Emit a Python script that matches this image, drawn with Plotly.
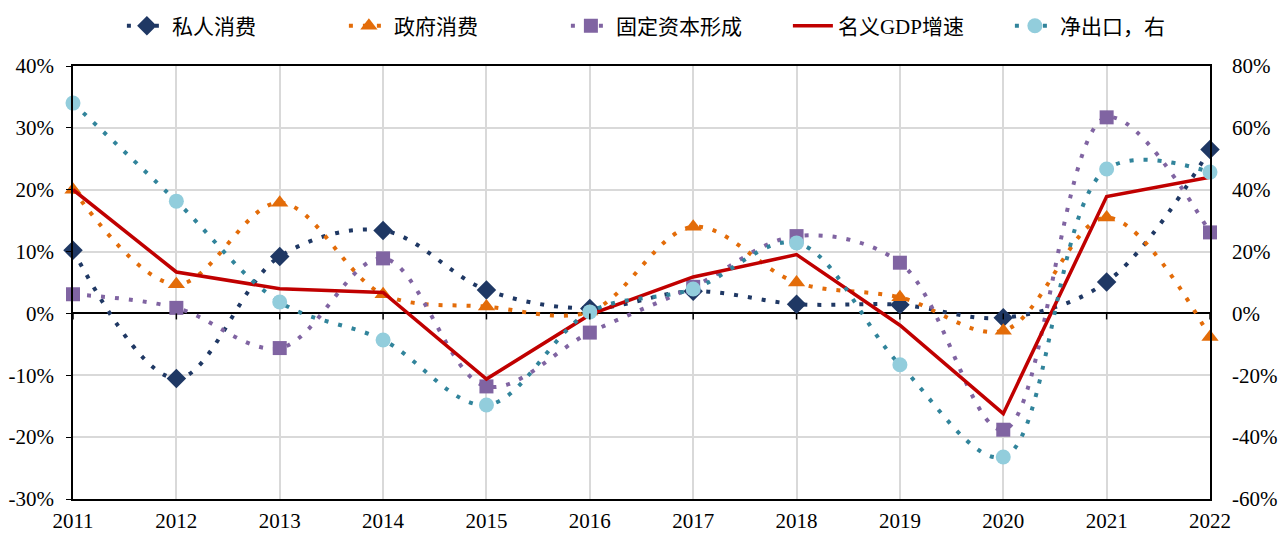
import plotly.graph_objects as go

years = [2011, 2012, 2013, 2014, 2015, 2016, 2017, 2018, 2019, 2020, 2021, 2022]

# 左轴（%）
private_cons = [10.2, -10.5, 9.2, 13.4, 3.8, 0.8, 3.6, 1.5, 1.4, -0.7, 5.1, 26.5]
gov_cons = [20.0, 4.7, 17.9, 3.1, 1.1, 0.3, 14.0, 5.0, 2.6, -2.8, 15.5, -3.8]
capital_form = [3.1, 0.9, -5.6, 8.9, -11.8, -3.1, 4.3, 12.5, 8.2, -18.8, 31.7, 13.1]
nominal_gdp = [20.0, 6.7, 4.0, 3.4, -10.6, -0.2, 5.9, 9.5, -1.9, -16.2, 18.9, 22.0]
# 右轴（%）
net_exports = [68.0, 36.3, 3.7, -8.6, -29.6, 0.5, 7.9, 22.8, -16.6, -46.4, 46.7, 45.7]

left_ticks = [-30, -20, -10, 0, 10, 20, 30, 40]
right_ticks = [-60, -40, -20, 0, 20, 40, 60, 80]

FONT = "Liberation Serif, Times New Roman, Noto Sans CJK SC"
DOTS = "4px,10px"

fig = go.Figure()

dotted = [
    ("私人消费", private_cons, "diamond", "#1f3864", 15),
    ("政府消费", gov_cons, "triangle-up", "#e36c09", 15),
    ("固定资本形成", capital_form, "square", "#8064a2", 14),
]
for name, vals, sym, col, ms in dotted:
    fig.add_trace(go.Scatter(
        x=years, y=[v / 100 for v in vals], name=name, mode="lines+markers",
        line=dict(color=col, width=4, dash=DOTS, shape="spline", smoothing=1),
        marker=dict(symbol=sym, size=ms, color=col),
        cliponaxis=False,
    ))

fig.add_trace(go.Scatter(
    x=years, y=[v / 100 for v in nominal_gdp], name="名义GDP增速", mode="lines",
    line=dict(color="#c00000", width=3.5),
    cliponaxis=False,
))

fig.add_trace(go.Scatter(
    x=years, y=[v / 100 for v in net_exports], name="净出口，右", mode="lines+markers",
    line=dict(color="#31849b", width=4, dash=DOTS, shape="spline", smoothing=1),
    marker=dict(symbol="circle", size=15, color="#92cddc"),
    yaxis="y2", cliponaxis=False,
))

# 零线上的刻度
for yr in years:
    fig.add_shape(type="line", xref="x", yref="y", x0=yr, x1=yr,
                  ysizemode="pixel", yanchor=0, y0=0, y1=-6,
                  line=dict(color="black", width=1.5))

fig.update_layout(
    width=1280, height=534,
    margin=dict(l=73, r=70, t=66, b=35, autoexpand=False),
    plot_bgcolor="white", paper_bgcolor="white",
    font=dict(family=FONT, size=21, color="black"),
    showlegend=True,
    legend=dict(orientation="h", x=0.043, xanchor="left", yref="container",
                y=0.951, yanchor="middle",
                font=dict(size=21), entrywidth=167, itemwidth=40,
                bgcolor="rgba(0,0,0,0)"),
    xaxis=dict(range=[2011, 2022], tickmode="array", tickvals=years,
               ticktext=[str(y) for y in years], showgrid=True, gridcolor="#d9d9d9",
               gridwidth=2, showline=True, linecolor="black", linewidth=1.5,
               mirror=True, ticks="", zeroline=False, automargin=False,
               ticklabelstandoff=2),
    yaxis=dict(range=[-0.3, 0.4], tickvals=[t / 100 for t in left_ticks],
               ticktext=[f"{t}%" for t in left_ticks], showgrid=True,
               gridcolor="#d9d9d9", gridwidth=2, showline=True, linecolor="black",
               linewidth=1.5, ticks="outside", ticklen=5, tickcolor="black",
               zeroline=True, zerolinecolor="black", zerolinewidth=1.5,
               automargin=False, ticklabelstandoff=8),
    yaxis2=dict(range=[-0.6, 0.8], tickvals=[t / 100 for t in right_ticks],
                ticktext=[f"{t}%" for t in right_ticks], overlaying="y", side="right",
                showgrid=False, showline=True, linecolor="black", linewidth=1.5,
                ticks="", zeroline=False, automargin=False,
                ticklabelstandoff=16),
)

fig.write_html("out.html", config={"displayModeBar": False},
               post_script="document.body.style.margin='0';")
